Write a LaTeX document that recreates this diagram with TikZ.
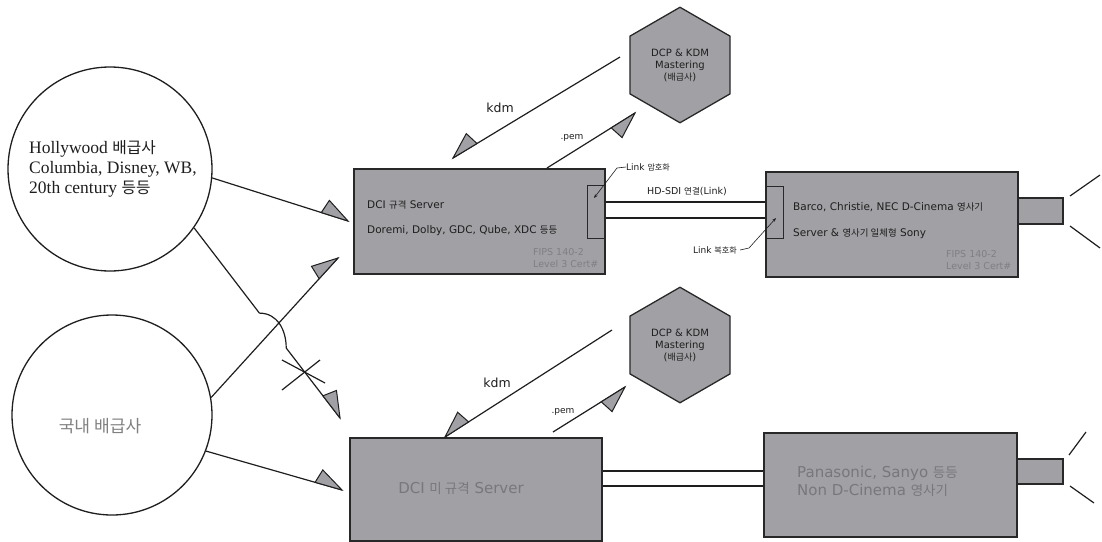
\documentclass[tikz,border=0pt]{standalone}
\usepackage{fontspec}
\setmainfont{Liberation Serif}
\newfontfamily\sansf{DejaVu Sans}
\newfontfamily\krf{Noto Sans CJK KR}[Scale=0.9]
\newcommand\ko[1]{{\krf #1}}
\usetikzlibrary{calc,shapes.geometric,arrows.meta}
\definecolor{boxgray}{RGB}{161,161,165}
\definecolor{edge}{RGB}{40,40,40}
\definecolor{ink}{RGB}{30,30,30}
\definecolor{dimtext}{RGB}{120,120,124}
\definecolor{fipstext}{RGB}{128,128,132}
\definecolor{krgray}{RGB}{128,128,128}
\newcommand\harp[3]{\filldraw[harpst] (#2) -- ($(#2)!28pt!(#1)$) -- ($(#2)!24pt!(#1)!14pt!#3:(#2)$) -- cycle;}
\begin{document}
\begin{tikzpicture}[x=1pt,y=-1pt,
 box/.style={draw=edge,fill=boxgray,line width=1.5pt,inner sep=0pt,anchor=north west},
 inbox/.style={draw=edge,line width=0.7pt,inner sep=0pt,anchor=north west},
 circ/.style={draw=ink,circle,line width=1.3pt,inner sep=0pt},
 conn/.style={draw=ink,line width=1.2pt},
 harpst/.style={draw=ink,fill=boxgray,line width=1pt,line join=miter},
 leader/.style={draw=ink,line width=0.6pt},
 hexa/.style={regular polygon,regular polygon sides=6,shape border rotate=90,minimum size=115.5pt,draw=edge,fill=boxgray,line width=1.3pt,inner sep=0pt,align=center,font=\sansf\fontsize{10}{12}\selectfont,text=ink},
 btxt/.style={anchor=west,inner sep=0pt,font=\sansf\fontsize{10.5}{12}\selectfont,text=ink},
 fips/.style={anchor=west,inner sep=0pt,align=left,font=\sansf\fontsize{9.5}{12}\selectfont,text=fipstext},
 small/.style={inner sep=0pt,font=\sansf\fontsize{9}{10}\selectfont,text=ink},
 bigdim/.style={inner sep=0pt,font=\sansf\fontsize{15}{18}\selectfont,text=dimtext},
]
\useasboundingbox (0,0) rectangle (1102,541);

% circles
\node[circ,minimum size=204pt] (hw) at (110,169) {};
\node[anchor=west,inner sep=0pt,align=left,font=\fontsize{17.5}{20}\selectfont,text=ink] (hwt) at (29,169)
  {Hollywood \ko{배급사}\\Columbia, Disney, WB,\\20th century \ko{등등}};
\node[circ,minimum size=200pt] (kr) at (112,415) {};
\node[inner sep=0pt,font=\krf\fontsize{19}{21}\selectfont,text=krgray] (krt) at (100,426) {국내 배급사};

% top server
\node[box,minimum width=251pt,minimum height=105pt] (srv1) at (353,168) {};
\node[inbox,minimum width=17pt,minimum height=53pt] (in1) at (587,185) {};
\node[btxt] (s1a) at (367,205) {DCI \ko{규격} Server};
\node[btxt] (s1b) at (367,231) {Doremi, Dolby, GDC, Qube, XDC \ko{등등}};
\node[fips] (s1f) at (533,258) {FIPS 140-2\\Level 3 Cert\#};

% top projector
\node[box,minimum width=252pt,minimum height=105pt] (proj1) at (765,171) {};
\node[inbox,minimum width=18pt,minimum height=52pt] (in2) at (765,186) {};
\node[box,minimum width=45pt,minimum height=26pt] (lens1) at (1017,197) {};
\node[btxt] (p1a) at (793,207) {Barco, Christie, NEC D-Cinema \ko{영사기}};
\node[btxt] (p1b) at (793,234) {Server \& \ko{영사기 일체형} Sony};
\node[fips] (p1f) at (946,260.5) {FIPS 140-2\\Level 3 Cert\#};
\coordinate (ray1a) at (1070,196); \coordinate (ray1b) at (1100,175);
\coordinate (ray1c) at (1070,226); \coordinate (ray1d) at (1100,248);
\draw[conn] (ray1a) -- (ray1b);
\draw[conn] (ray1c) -- (ray1d);

% HD-SDI link
\coordinate (hy1) at (0,202); \coordinate (hy2) at (0,218);
\draw[conn] (srv1.east |- hy1) -- (proj1.west |- hy1);
\draw[conn] (srv1.east |- hy2) -- (proj1.west |- hy2);
\node[small,font=\sansf\fontsize{9.5}{10}\selectfont] (hdsdi) at (687,192) {HD-SDI \ko{연결}(Link)};
\node[small,anchor=west] (lenc) at (626,167) {Link \ko{암호화}};
\coordinate (lencb) at (617,168); \coordinate (lenct) at (594,198);
\draw[leader,-{Stealth[length=4pt,width=3pt]}] (lenc.west) -- (lencb) -- (lenct);
\node[small,anchor=east] (ldec) at (737,250) {Link \ko{복호화}};
\coordinate (ldecb) at (749,248); \coordinate (ldect) at (776,218);
\draw[leader,-{Stealth[length=4pt,width=3pt]}] ([xshift=3pt]ldec.east) -- (ldecb) -- (ldect);

% top hexagon
\node[hexa] (hex1) at (680,65) {DCP \& KDM\\Mastering\\(\ko{배급사})};
\coordinate (k1s) at (620,57); \coordinate (k1t) at (453,158);
\coordinate (p1s) at (547,168); \coordinate (p1t) at (635,113);
\draw[conn] (k1s) -- (k1t); \harp{k1s}{k1t}{-90}
\draw[conn] (p1s) -- (p1t); \harp{p1s}{p1t}{-90}
\node[small,font=\sansf\fontsize{12.5}{14}\selectfont] (kdm1) at (500,108) {kdm};
\node[small] (pem1) at (572,138) {.pem};

% bottom server
\node[box,minimum width=252pt,minimum height=103pt] (srv2) at (349,437) {};
\node[bigdim] (s2a) at (461,488) {DCI \ko{미 규격} Server};

% bottom projector
\node[box,minimum width=253pt,minimum height=104pt] (proj2) at (763,432) {};
\node[box,minimum width=46pt,minimum height=25pt] (lens2) at (1016,458) {};
\node[bigdim,anchor=west,align=left] (p2a) at (797,481) {Panasonic, Sanyo \ko{등등}\\Non D-Cinema \ko{영사기}};
\coordinate (ray2a) at (1069,455); \coordinate (ray2b) at (1086,432);
\coordinate (ray2c) at (1070,486); \coordinate (ray2d) at (1094,503);
\draw[conn] (ray2a) -- (ray2b);
\draw[conn] (ray2c) -- (ray2d);
\coordinate (my1) at (0,471); \coordinate (my2) at (0,486);
\draw[conn] (srv2.east |- my1) -- (proj2.west |- my1);
\draw[conn] (srv2.east |- my2) -- (proj2.west |- my2);

% bottom hexagon
\node[hexa] (hex2) at (680,345) {DCP \& KDM\\Mastering\\(\ko{배급사})};
\coordinate (k2s) at (612,330); \coordinate (k2t) at (445,437);
\coordinate (p2s) at (553,432); \coordinate (p2t) at (625,387);
\draw[conn] (k2s) -- (k2t); \harp{k2s}{k2t}{-90}
\draw[conn] (p2s) -- (p2t); \harp{p2s}{p2t}{-90}
\node[small,font=\sansf\fontsize{12.5}{14}\selectfont] (kdm2) at (497,383) {kdm};
\node[small] (pem2) at (563,412) {.pem};

% distributor connectors
\coordinate (t1) at (348,221);
\draw[conn] (hw.-5) -- (t1); \harp{hw.-5}{t1}{90}
\coordinate (hop1) at (259.4,313.1); \coordinate (hop2) at (286.2,348);
\coordinate (tA) at (340,418);
\draw[conn] (hw.-35) -- (hop1) .. controls +(18,0) and +(0,-18) .. (hop2) -- (tA);
\harp{hop2}{tA}{90}
\coordinate (tB) at (338,258);
\draw[conn] (kr.10) -- (tB); \harp{kr.10}{tB}{90}
\coordinate (tC) at (342,490);
\draw[conn] (kr.-21) -- (tC); \harp{kr.-21}{tC}{90}
% cross mark
\coordinate (xa) at (282,360); \coordinate (xb) at (325,383);
\coordinate (xc) at (282,390); \coordinate (xd) at (320,360);
\draw[conn] (xa) -- (xb);
\draw[conn] (xc) -- (xd);
\end{tikzpicture}
\end{document}
